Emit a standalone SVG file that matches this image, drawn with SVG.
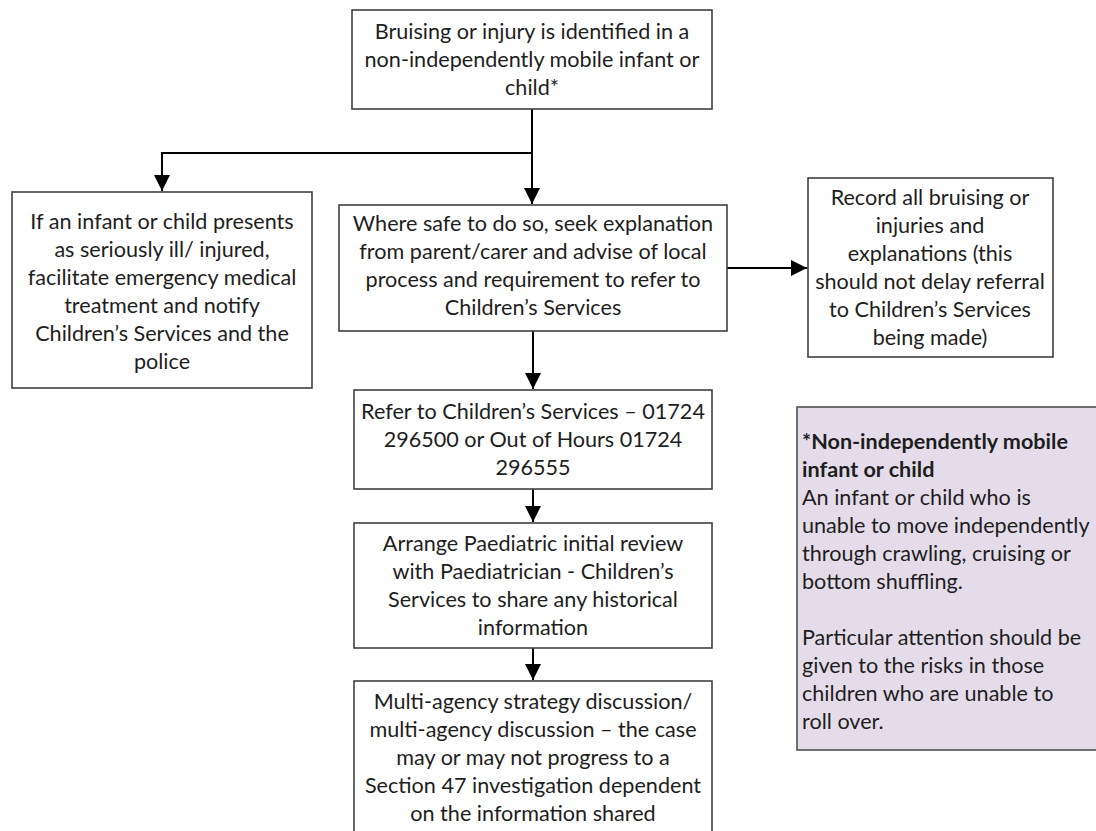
<svg xmlns="http://www.w3.org/2000/svg" width="1096" height="831" viewBox="0 0 1096 831">
<defs>
<marker id="ah" markerUnits="userSpaceOnUse" markerWidth="18" markerHeight="18" viewBox="0 0 18 18" refX="16" refY="9" orient="auto">
<path d="M0,1 L16,9 L0,17 Z" fill="#000"/>
</marker>
</defs>
<style>
.box{fill:#fff;stroke:#404040;stroke-width:1.6}
.note{fill:#e5dcea;stroke:#505050;stroke-width:1.6}
.t{font-family:Lato,"Liberation Sans",sans-serif;font-size:21.6px;fill:#1e1e1e;text-anchor:middle}
.l{font-family:Lato,"Liberation Sans",sans-serif;font-size:21.6px;fill:#1e1e1e}
.b{font-weight:bold}
.c{fill:none;stroke:#000;stroke-width:2}
</style>
<rect width="1096" height="831" fill="#fff"/>
<g id="connectors">
<path class="c" d="M532,109 V204" marker-end="url(#ah)"/>
<path class="c" d="M532,153 H162 V191" marker-end="url(#ah)"/>
<path class="c" d="M533,331 V389" marker-end="url(#ah)"/>
<path class="c" d="M533,489 V522" marker-end="url(#ah)"/>
<path class="c" d="M533,648 V680" marker-end="url(#ah)"/>
<path class="c" d="M727,268 H807" marker-end="url(#ah)"/>
</g>
<g id="n-start">
<rect class="box" x="352" y="10" width="360" height="99"/>
<text class="t"><tspan x="532" y="39">Bruising or injury is identified in a</tspan><tspan x="532" y="67">non-independently mobile infant or</tspan><tspan x="532" y="95">child*</tspan></text>
</g>
<g id="n-emergency">
<rect class="box" x="12" y="192" width="300" height="196"/>
<text class="t"><tspan x="162" y="229">If an infant or child presents</tspan><tspan x="162" y="257">as seriously ill/ injured,</tspan><tspan x="162" y="285">facilitate emergency medical</tspan><tspan x="162" y="313">treatment and notify</tspan><tspan x="162" y="341">Children’s Services and the</tspan><tspan x="162" y="369">police</tspan></text>
</g>
<g id="n-explain">
<rect class="box" x="339" y="205" width="388" height="126"/>
<text class="t"><tspan x="533" y="231">Where safe to do so, seek explanation</tspan><tspan x="533" y="259">from parent/carer and advise of local</tspan><tspan x="533" y="287">process and requirement to refer to</tspan><tspan x="533" y="315">Children’s Services</tspan></text>
</g>
<g id="n-record">
<rect class="box" x="808" y="178" width="245" height="179"/>
<text class="t"><tspan x="930" y="205">Record all bruising or</tspan><tspan x="930" y="233">injuries and</tspan><tspan x="930" y="261">explanations (this</tspan><tspan x="930" y="289">should not delay referral</tspan><tspan x="930" y="317">to Children’s Services</tspan><tspan x="930" y="345">being made)</tspan></text>
</g>
<g id="n-refer">
<rect class="box" x="354" y="390" width="358" height="99"/>
<text class="t"><tspan x="533" y="419">Refer to Children’s Services – 01724</tspan><tspan x="533" y="447">296500 or Out of Hours 01724</tspan><tspan x="533" y="475">296555</tspan></text>
</g>
<g id="n-review">
<rect class="box" x="354" y="523" width="358" height="125"/>
<text class="t"><tspan x="533" y="551">Arrange Paediatric initial review</tspan><tspan x="533" y="579">with Paediatrician - Children’s</tspan><tspan x="533" y="607">Services to share any historical</tspan><tspan x="533" y="635">information</tspan></text>
</g>
<g id="n-strategy">
<rect class="box" x="354" y="681" width="358" height="170"/>
<text class="t"><tspan x="533" y="709">Multi-agency strategy discussion/</tspan><tspan x="533" y="737">multi-agency discussion – the case</tspan><tspan x="533" y="765">may or may not progress to a</tspan><tspan x="533" y="793">Section 47 investigation dependent</tspan><tspan x="533" y="821">on the information shared</tspan></text>
</g>
<g id="n-definition">
<rect class="note" x="797" y="407" width="310" height="343"/>
<text class="l"><tspan class="b" x="802" y="449">*Non-independently mobile</tspan><tspan class="b" x="802" y="477">infant or child</tspan><tspan x="802" y="505">An infant or child who is</tspan><tspan x="802" y="533">unable to move independently</tspan><tspan x="802" y="561">through crawling, cruising or</tspan><tspan x="802" y="589">bottom shuffling.</tspan><tspan x="802" y="645">Particular attention should be</tspan><tspan x="802" y="673">given to the risks in those</tspan><tspan x="802" y="701">children who are unable to</tspan><tspan x="802" y="729">roll over.</tspan></text>
</g>
</svg>
